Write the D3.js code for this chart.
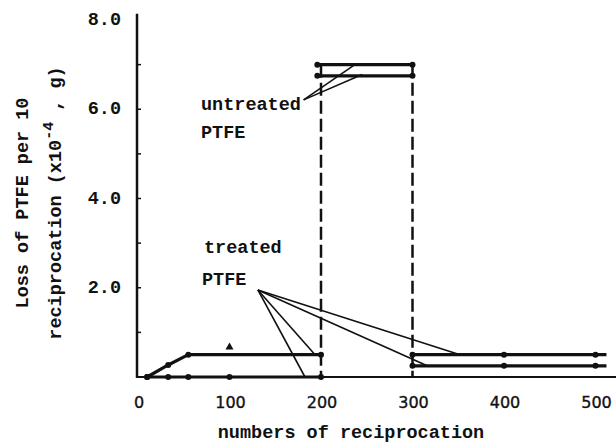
<!DOCTYPE html>
<html><head><meta charset="utf-8">
<script src="https://cdn.jsdelivr.net/npm/d3@7"></script>
<style>
html,body{margin:0;padding:0;background:#fff;}
svg{display:block;}
.tw{font-family:"Liberation Mono","Courier New",monospace;font-weight:bold;fill:#111;}
.num{font-family:"DejaVu Sans",sans-serif;fill:#111;stroke:#111;stroke-width:0.35px;}
</style></head>
<body>
<svg id="c" width="616" height="443"></svg>
<script>
// ---- data ----
const xTickValues = [0, 100, 200, 300, 400, 500];
const xTickLabels = ["0", "100", "200", "300", "400", "500"];
const yTickValues = [2, 4, 6, 8];
const yTickLabels = ["2.0", "4.0", "6.0", "8.0"];
const yMinorTicks = [1, 2, 3, 4, 5, 6, 7];

// treated PTFE, first 200 reciprocations
const treatedLowX = [10, 33, 55, 100, 200];
const treatedLowY = [0, 0, 0, 0, 0];
const treatedHighX = [10, 33, 55, 200];
const treatedHighY = [0, 0.27, 0.5, 0.5];
const treatedTriangleX = [100];
const treatedTriangleY = [0.67];
// treated PTFE after 300 reciprocations
const afterX = [300, 400, 500];
const afterHighY = [0.5, 0.5, 0.5];
const afterLowY = [0.25, 0.25, 0.25];
const afterLineEndX = 512;
// untreated PTFE
const untreatedX = [196, 300];
const untreatedHighY = [7.0, 7.0];
const untreatedLowY = [6.75, 6.75];
// dashed boundaries
const dashedX = [200, 300];
const dashedTop = 7.0;

// annotation leaders (data units)
const untreatedLeaderFrom = [181, 6.21];
const untreatedLeaderTo = [[237, 7.0], [245, 6.78]];
const treatedLeaderFrom = [131, 1.95];
const treatedLeaderTo = [[182.5, 0], [193.5, 0.5], [316, 0.25], [352, 0.5]];

// ---- drawing ----
const svg = d3.select("#c");
const x = d3.scaleLinear().domain([0, 500]).range([138, 595.5]);
const y = d3.scaleLinear().domain([0, 8]).range([377, 20]);
const ink = "#111";

// axes
svg.append("line").attr("x1", 137).attr("x2", 137).attr("y1", y(8.14)).attr("y2", y(0) + 1)
  .attr("stroke", ink).attr("stroke-width", 2.5);
svg.append("line").attr("x1", 136).attr("x2", 616).attr("y1", y(0)).attr("y2", y(0))
  .attr("stroke", ink).attr("stroke-width", 2);

// y minor ticks
svg.selectAll(".ymt").data(yMinorTicks).enter().append("line")
  .attr("x1", 137).attr("x2", 141).attr("y1", d => y(d)).attr("y2", d => y(d))
  .attr("stroke", ink).attr("stroke-width", 1.5);

// y tick labels
svg.selectAll(".ytl").data(yTickValues).enter().append("text")
  .attr("class", "tw").attr("x", 121).attr("y", d => y(d) + 5)
  .attr("text-anchor", "end").attr("font-size", 18.5)
  .text((d, i) => yTickLabels[i]);

// x tick labels
svg.selectAll(".xtl").data(xTickValues).enter().append("text")
  .attr("class", "num").attr("x", d => x(d) + 1).attr("y", 408)
  .attr("text-anchor", "middle").attr("font-size", 16)
  .text((d, i) => xTickLabels[i]);

// axis titles
svg.append("text").attr("class", "tw").attr("font-size", 18.5)
  .attr("text-anchor", "middle")
  .attr("x", 351).attr("y", 438).text("numbers of reciprocation");

const yt = svg.append("g").attr("transform", "translate(28,203) rotate(-90)");
yt.append("text").attr("class", "tw").attr("font-size", 18.5).attr("text-anchor", "middle")
  .attr("x", 0).attr("y", 0).text("Loss of PTFE per 10");
const yt2 = yt.append("text").attr("class", "tw").attr("font-size", 18.5).attr("text-anchor", "middle")
  .attr("x", 0).attr("y", 33);
yt2.append("tspan").text("reciprocation (x10");
yt2.append("tspan").attr("dy", -8).attr("font-size", 15).text("-4");
yt2.append("tspan").attr("dy", 8).text(" , g)");

// dashed boundaries
svg.selectAll(".dash").data(dashedX).enter().append("line")
  .attr("x1", d => x(d)).attr("x2", d => x(d))
  .attr("y1", y(dashedTop)).attr("y2", y(0))
  .attr("stroke", ink).attr("stroke-width", 2.5).attr("stroke-dasharray", "13,5");

const line = d3.line().x(d => x(d[0])).y(d => y(d[1]));
function series(xs, ys, ext) {
  const pts = xs.map((v, i) => [v, ys[i]]);
  const linePts = ext != null ? pts.concat([[ext, ys[ys.length - 1]]]) : pts;
  svg.append("path").attr("d", line(linePts)).attr("fill", "none")
    .attr("stroke", ink).attr("stroke-width", 3.2).attr("stroke-linejoin", "round");
  svg.append("g").selectAll("circle").data(pts).enter().append("circle")
    .attr("cx", d => x(d[0])).attr("cy", d => y(d[1])).attr("r", 3).attr("fill", ink);
}
series(treatedLowX, treatedLowY);
series(treatedHighX, treatedHighY);
series(afterX, afterHighY, afterLineEndX);
series(afterX, afterLowY, afterLineEndX);
series(untreatedX, untreatedHighY);
series(untreatedX, untreatedLowY);

// triangle marker
svg.selectAll(".tri").data(treatedTriangleX).enter().append("path")
  .attr("d", d3.symbol().type(d3.symbolTriangle).size(28))
  .attr("transform", (d, i) => `translate(${x(d)},${y(treatedTriangleY[i])})`)
  .attr("fill", ink);

// leaders
function leaders(from, tos) {
  svg.append("g").selectAll("line").data(tos).enter().append("line")
    .attr("x1", x(from[0])).attr("y1", y(from[1]))
    .attr("x2", d => x(d[0])).attr("y2", d => y(d[1]))
    .attr("stroke", ink).attr("stroke-width", 1.6);
}
leaders(untreatedLeaderFrom, untreatedLeaderTo);
leaders(treatedLeaderFrom, treatedLeaderTo);

// annotation labels
svg.append("text").attr("class", "tw").attr("font-size", 18.5).attr("x", 201).attr("y", 110).text("untreated");
svg.append("text").attr("class", "tw").attr("font-size", 18.5).attr("x", 201).attr("y", 138).text("PTFE");
svg.append("text").attr("class", "tw").attr("font-size", 18.5).attr("x", 204).attr("y", 253).text("treated");
svg.append("text").attr("class", "tw").attr("font-size", 18.5).attr("x", 202).attr("y", 285).text("PTFE");
</script>
</body></html>
